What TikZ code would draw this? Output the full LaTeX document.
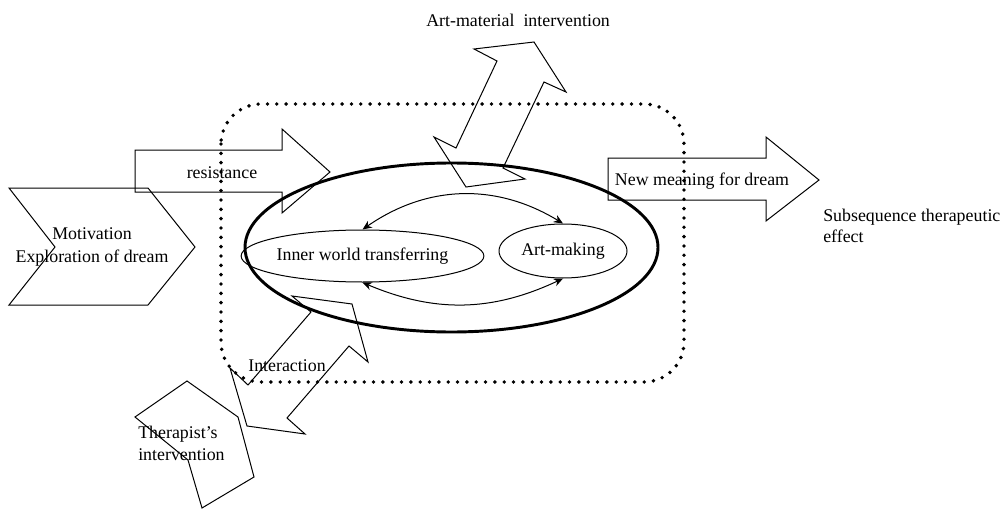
\documentclass[tikz,border=0pt]{standalone}
\usepackage{fontspec}
\setmainfont{Liberation Serif}
\usetikzlibrary{arrows.meta,shapes.geometric}
\begin{document}
\begin{tikzpicture}[x=0.75pt,y=-0.75pt,
  every node/.style = {font=\fontsize{13.4}{16}\selectfont, inner sep=0pt},
  outline/.style = {draw, line width=0.75pt, line join=miter},
  dotframe/.style = {draw, line width=2.9pt, line cap=round,
    dash pattern=on 0pt off 7pt, rounded corners=30pt},
  oval/.style = {shape=ellipse, draw, line width=0.75pt},
  exchange/.style = {{Stealth[length=7pt,width=6pt]}-{Stealth[length=7pt,width=6pt]},
    line width=0.75pt}]
  \useasboundingbox (0,0) rectangle (1007,510);

  \draw[dotframe] (221,104) rectangle (684,382);

  \node[shape=ellipse, draw, line width=2.2pt, minimum width=309.75pt,
    minimum height=126.75pt] (session) at (451.5,247.5) {};
  \node[oval, minimum width=164.25pt, minimum height=39pt] (inner) at (362.5,256)
    {Inner world transferring};
  \node[oval, minimum width=96pt, minimum height=40.5pt] (art) at (563,251)
    {Art-making};
  \draw[exchange] (inner.north) to[bend left=33] (art.north);
  \draw[exchange] (inner.south) to[bend right=24] (art.south);

  \draw[outline] (9,188) -- (148,188) -- (195,247) -- (148,305) -- (9,305)
    -- (55,247) -- cycle;
  \node[align=center] (motivation) at (92,247) {Motivation\\[1pt]Exploration of dream};

  \draw[outline] (135,150) -- (282,150) -- (282,129) -- (330,172) -- (282,213)
    -- (282,192) -- (135,192) -- cycle;
  \node (resistance) at (222,173) {resistance};

  \draw[outline] (608,158) -- (766,158) -- (766,137) -- (819,180) -- (766,221)
    -- (766,200) -- (608,200) -- cycle;
  \node (meaning) at (702,181) {New meaning for dream};
  \node[anchor=west, align=left] (effect) at (823,226)
    {Subsequence therapeutic\\effect};

  \draw[outline] (534,42) -- (566,92) -- (544,82) -- (503,168) -- (525,179)
    -- (466,187) -- (434,137) -- (456,148) -- (497,61) -- (474,49) -- cycle;
  \node[anchor=west] (material) at (426,20) {Art-material\ \ intervention};

  \draw[outline] (352,304) -- (368,362) -- (349,346) -- (287,418) -- (305,434)
    -- (247,426) -- (230,368) -- (248,385) -- (311,312) -- (292,296) -- cycle;
  \node (interaction) at (287,366) {Interaction};

  \draw[outline] (135,417) -- (187,381) -- (238,417) -- (254,477) -- (202,508)
    -- (188,460) -- cycle;
  \node[anchor=west, align=left] (therapist) at (138,443.5)
    {Therapist's\\intervention};
\end{tikzpicture}
\end{document}
